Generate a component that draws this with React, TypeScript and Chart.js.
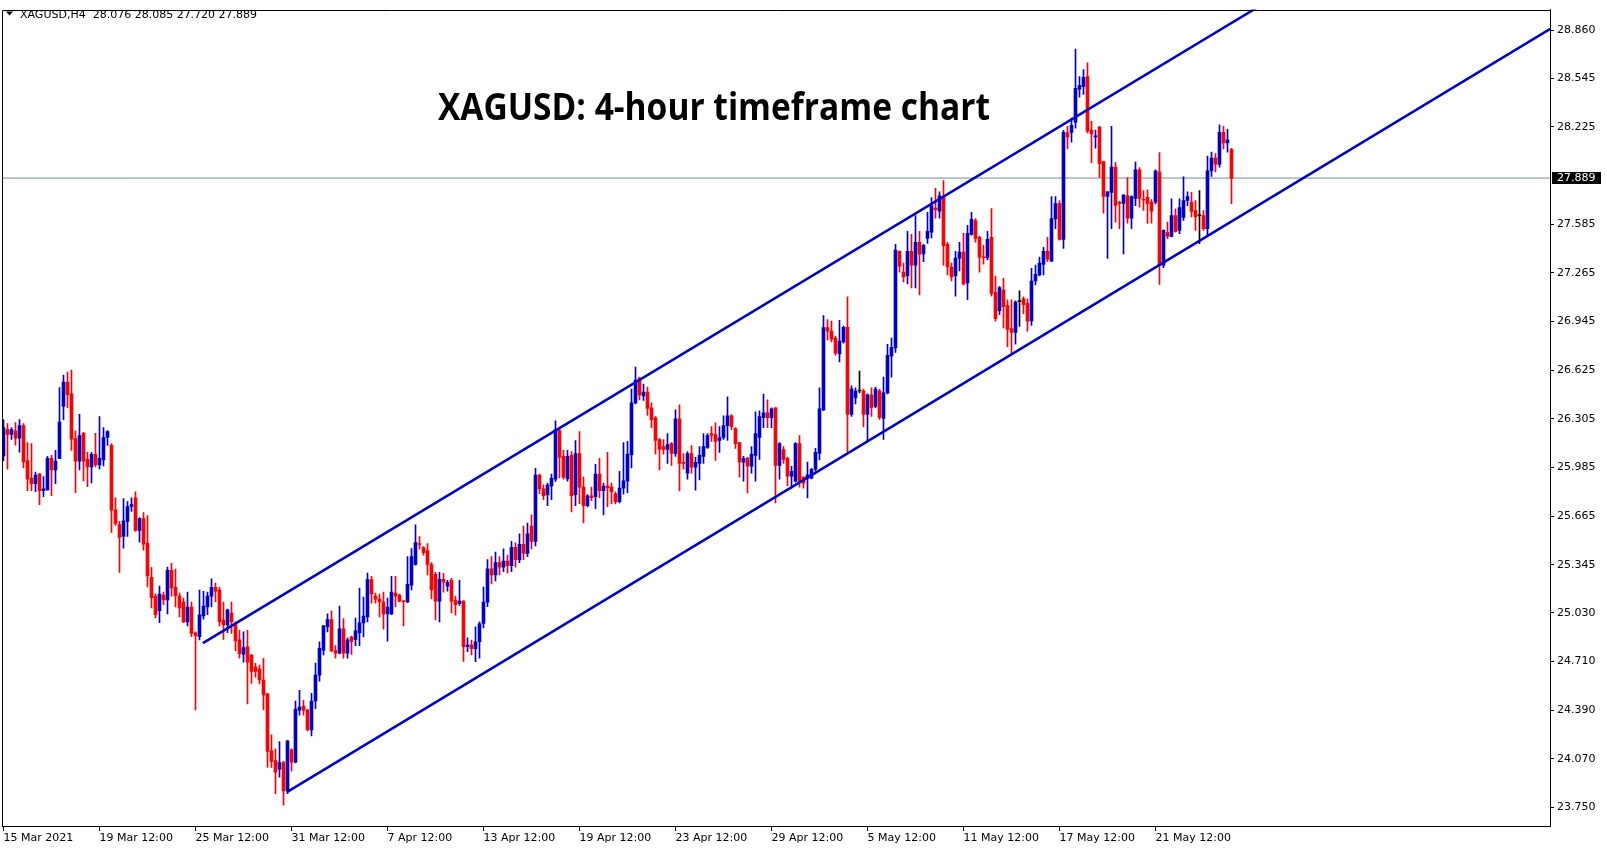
import React, { useEffect, useRef } from 'react';
import { Chart, registerables } from 'chart.js';

Chart.register(...registerables);

// ---- DATA (XAGUSD H4) ----
const opens = [
  26.061, 26.235, 26.204, 26.226, 26.178, 26.261, 26.031, 25.915, 25.879, 25.942,
  25.833, 25.839, 26.046, 25.970, 26.046, 26.387, 26.548, 26.470, 26.176, 26.028,
  26.211, 26.039, 25.989, 26.072, 26.002, 26.035, 26.183, 26.131, 25.707, 25.611,
  25.533, 25.631, 25.729, 25.787, 25.572, 25.650, 25.487, 25.264, 25.140, 25.044,
  25.146, 25.114, 25.309, 25.198, 25.140, 25.101, 24.970, 25.068, 24.899, 24.873,
  25.009, 25.068, 25.140, 25.198, 25.179, 24.983, 24.951, 25.029, 24.953, 24.853,
  24.757, 24.807, 24.751, 24.673, 24.660, 24.588, 24.497, 24.123, 24.058, 24.001,
  24.045, 23.862, 24.129, 24.047, 24.390, 24.416, 24.390, 24.260, 24.450, 24.620,
  24.785, 24.938, 24.985, 24.781, 24.764, 24.925, 24.764, 24.870, 24.853, 24.898,
  24.964, 25.003, 25.248, 25.140, 25.120, 25.101, 25.022, 25.022, 25.159, 25.146,
  25.107, 25.101, 25.211, 25.348, 25.485, 25.459, 25.439, 25.348, 25.283, 25.107,
  25.250, 25.205, 25.244, 25.114, 25.090, 25.107, 24.807, 24.820, 24.794, 24.840,
  24.960, 25.100, 25.320, 25.280, 25.360, 25.330, 25.370, 25.340, 25.460, 25.380,
  25.480, 25.420, 25.600, 25.500, 25.935, 25.846, 25.805, 25.865, 25.909, 26.228,
  26.059, 25.911, 26.065, 25.807, 26.078, 25.857, 25.735, 25.800, 25.794, 25.942,
  25.833, 25.863, 25.857, 25.813, 25.761, 25.850, 25.898, 26.068, 26.411, 26.574,
  26.456, 26.482, 26.378, 26.313, 26.170, 26.124, 26.104, 26.143, 26.078, 26.306,
  26.020, 25.948, 26.078, 25.987, 26.013, 26.059, 26.117, 26.209, 26.202, 26.163,
  26.183, 26.261, 26.326, 26.241, 26.150, 26.020, 26.046, 25.994, 26.065, 26.183,
  26.313, 26.346, 26.313, 26.378, 26.000, 26.104, 26.046, 25.928, 25.896, 26.143,
  25.922, 25.915, 25.915, 25.974, 26.078, 26.365, 26.906, 26.882, 26.837, 26.732,
  26.811, 26.908, 26.335, 26.443, 26.489, 26.489, 26.335, 26.463, 26.387, 26.489,
  26.309, 26.476, 26.717, 26.772, 27.408, 27.271, 27.245, 27.408, 27.317, 27.467,
  27.391, 27.493, 27.534, 27.691, 27.671, 27.769, 27.454, 27.304, 27.245, 27.363,
  27.402, 27.200, 27.519, 27.610, 27.500, 27.371, 27.365, 27.500, 27.137, 27.017,
  27.154, 27.050, 26.900, 26.874, 27.076, 27.095, 27.065, 26.950, 27.213, 27.252,
  27.321, 27.408, 27.343, 27.621, 27.721, 27.486, 28.186, 28.190, 28.256, 28.473,
  28.490, 28.556, 28.204, 28.160, 28.225, 27.997, 27.769, 27.795, 27.962, 27.730,
  27.723, 27.773, 27.625, 27.756, 27.943, 27.749, 27.762, 27.730, 27.730, 27.930,
  27.317, 27.532, 27.506, 27.643, 27.545, 27.630, 27.741, 27.730, 27.676, 27.641,
  27.643, 27.556, 27.936, 28.020, 27.980, 28.190, 28.120, 28.076,
];

const highs = [
  26.300, 26.274, 26.248, 26.281, 26.300, 26.274, 26.150, 26.143, 25.955, 25.948,
  25.926, 26.059, 26.065, 26.098, 26.511, 26.593, 26.613, 26.626, 26.226, 26.335,
  26.217, 26.085, 26.085, 26.211, 26.320, 26.248, 26.228, 26.143, 25.787, 25.631,
  25.781, 25.761, 25.787, 25.826, 25.657, 25.689, 25.670, 25.329, 25.155, 25.205,
  25.166, 25.331, 25.355, 25.318, 25.159, 25.127, 25.166, 25.101, 24.905, 25.179,
  25.172, 25.166, 25.253, 25.225, 25.198, 25.101, 25.055, 25.101, 24.970, 24.914,
  24.905, 24.914, 24.757, 24.697, 24.686, 24.731, 24.500, 24.227, 24.136, 24.184,
  24.053, 24.190, 24.135, 24.449, 24.520, 24.455, 24.395, 24.500, 24.700, 24.840,
  24.948, 25.024, 25.042, 24.814, 25.074, 24.992, 24.866, 24.877, 24.996, 25.192,
  25.133, 25.292, 25.270, 25.159, 25.153, 25.166, 25.127, 25.270, 25.270, 25.153,
  25.110, 25.400, 25.453, 25.609, 25.531, 25.466, 25.485, 25.361, 25.296, 25.296,
  25.290, 25.244, 25.257, 25.140, 25.244, 25.110, 24.866, 24.851, 24.938, 24.970,
  25.200, 25.380, 25.400, 25.430, 25.400, 25.450, 25.410, 25.500, 25.490, 25.550,
  25.600, 25.620, 25.674, 25.981, 25.942, 25.872, 25.883, 25.942, 26.293, 26.241,
  26.098, 26.098, 26.091, 26.163, 26.222, 25.922, 25.807, 25.857, 26.007, 26.046,
  25.883, 26.085, 25.883, 25.826, 25.961, 26.150, 26.157, 26.502, 26.646, 26.580,
  26.535, 26.515, 26.411, 26.320, 26.176, 26.170, 26.209, 26.150, 26.365, 26.398,
  26.078, 26.091, 26.130, 26.052, 26.124, 26.209, 26.209, 26.254, 26.280, 26.254,
  26.326, 26.450, 26.333, 26.248, 26.152, 26.059, 26.052, 26.124, 26.352, 26.359,
  26.469, 26.430, 26.378, 26.380, 26.150, 26.124, 26.052, 25.994, 26.150, 26.196,
  25.925, 26.022, 25.980, 26.111, 26.509, 26.985, 26.958, 26.948, 26.850, 26.954,
  26.915, 27.108, 26.522, 26.509, 26.620, 26.502, 26.470, 26.509, 26.515, 26.502,
  26.580, 26.795, 26.837, 27.454, 27.410, 27.330, 27.539, 27.519, 27.643, 27.539,
  27.454, 27.663, 27.760, 27.821, 27.799, 27.873, 27.467, 27.330, 27.408, 27.467,
  27.526, 27.578, 27.663, 27.623, 27.506, 27.447, 27.539, 27.689, 27.245, 27.176,
  27.230, 27.089, 27.089, 27.082, 27.148, 27.108, 27.095, 27.295, 27.317, 27.369,
  27.434, 27.499, 27.767, 27.767, 27.741, 28.203, 28.230, 28.284, 28.738, 28.556,
  28.603, 28.647, 28.262, 28.204, 28.230, 28.000, 27.801, 28.230, 27.991, 27.736,
  27.780, 27.893, 27.773, 27.995, 27.958, 27.806, 27.812, 27.747, 27.943, 28.056,
  27.548, 27.599, 27.752, 27.687, 27.752, 27.897, 27.799, 27.795, 27.741, 27.806,
  27.676, 28.034, 28.060, 28.050, 28.240, 28.230, 28.210, 28.085,
];

const lows = [
  26.031, 25.974, 26.170, 26.133, 26.087, 25.983, 25.833, 25.833, 25.826, 25.742,
  25.794, 25.837, 25.800, 25.879, 26.044, 26.300, 26.378, 26.098, 25.820, 25.970,
  25.898, 25.859, 25.885, 25.989, 25.976, 25.996, 26.131, 25.559, 25.605, 25.296,
  25.455, 25.533, 25.696, 25.566, 25.494, 25.442, 25.201, 25.062, 24.996, 24.966,
  25.083, 25.022, 25.140, 25.068, 25.003, 24.966, 24.944, 24.873, 24.392, 24.851,
  24.988, 25.018, 25.068, 25.101, 24.944, 24.855, 24.899, 24.894, 24.781, 24.731,
  24.705, 24.431, 24.566, 24.607, 24.562, 24.392, 24.014, 24.014, 23.840, 23.949,
  23.765, 23.840, 23.988, 24.043, 24.357, 24.357, 24.253, 24.220, 24.400, 24.580,
  24.753, 24.905, 24.775, 24.731, 24.759, 24.731, 24.731, 24.757, 24.814, 24.814,
  24.872, 24.970, 25.094, 25.094, 25.003, 24.922, 24.844, 25.018, 25.068, 25.101,
  24.944, 25.096, 25.181, 25.344, 25.448, 25.409, 25.279, 25.122, 24.983, 24.970,
  25.166, 25.172, 25.029, 25.014, 25.079, 24.710, 24.775, 24.753, 24.709, 24.731,
  24.930, 25.070, 25.220, 25.240, 25.280, 25.300, 25.290, 25.300, 25.330, 25.360,
  25.380, 25.400, 25.450, 25.470, 25.813, 25.774, 25.735, 25.774, 25.894, 25.917,
  25.909, 25.896, 25.694, 25.735, 25.748, 25.622, 25.726, 25.768, 25.715, 25.787,
  25.674, 25.728, 25.746, 25.746, 25.752, 25.811, 25.820, 25.983, 26.404, 26.430,
  26.426, 26.328, 26.248, 26.074, 25.970, 26.074, 26.013, 26.000, 26.059, 25.831,
  25.974, 25.909, 25.948, 25.837, 25.904, 26.013, 26.111, 26.157, 26.033, 26.085,
  26.170, 26.163, 26.235, 26.111, 25.922, 25.896, 25.818, 25.948, 25.896, 26.039,
  26.248, 26.248, 26.248, 25.752, 25.909, 26.013, 25.865, 25.850, 25.889, 25.857,
  25.850, 25.785, 25.910, 25.961, 26.035, 26.360, 26.824, 26.811, 26.724, 26.680,
  26.804, 26.090, 26.322, 26.404, 26.476, 26.252, 26.160, 26.322, 26.378, 26.302,
  26.170, 26.470, 26.580, 26.743, 27.271, 27.206, 27.193, 27.167, 27.167, 27.121,
  27.339, 27.460, 27.495, 27.626, 27.626, 27.317, 27.252, 27.213, 27.113, 27.278,
  27.187, 27.089, 27.513, 27.467, 27.271, 27.323, 27.350, 27.113, 26.948, 26.991,
  26.904, 26.780, 26.735, 26.796, 26.913, 26.998, 26.882, 26.920, 27.187, 27.245,
  27.252, 27.339, 27.339, 27.556, 27.480, 27.426, 28.082, 28.125, 28.217, 28.421,
  28.440, 28.186, 27.991, 28.086, 27.893, 27.658, 27.360, 27.556, 27.599, 27.556,
  27.391, 27.593, 27.556, 27.708, 27.697, 27.676, 27.591, 27.593, 27.719, 27.190,
  27.300, 27.491, 27.502, 27.534, 27.524, 27.610, 27.708, 27.634, 27.545, 27.458,
  27.545, 27.513, 27.900, 27.930, 27.960, 28.080, 28.060, 27.720,
];

const closes = [
  26.248, 26.204, 26.235, 26.178, 26.261, 26.022, 25.909, 25.879, 25.935, 25.833,
  25.846, 26.046, 25.970, 26.028, 26.285, 26.548, 26.465, 26.172, 26.028, 26.196,
  26.028, 25.989, 26.072, 26.002, 26.046, 26.183, 26.222, 25.703, 25.618, 25.526,
  25.635, 25.729, 25.742, 25.572, 25.650, 25.481, 25.272, 25.129, 25.018, 25.153,
  25.114, 25.309, 25.194, 25.142, 25.062, 24.970, 25.068, 24.894, 24.879, 25.016,
  25.075, 25.140, 25.198, 25.172, 24.970, 24.951, 25.049, 24.970, 24.846, 24.762,
  24.801, 24.705, 24.644, 24.644, 24.588, 24.490, 24.118, 24.053, 23.982, 24.045,
  23.858, 24.188, 24.047, 24.397, 24.410, 24.390, 24.260, 24.450, 24.620, 24.796,
  24.944, 24.985, 24.781, 24.764, 24.925, 24.764, 24.853, 24.842, 24.912, 24.964,
  25.009, 25.248, 25.155, 25.120, 25.101, 25.022, 25.068, 25.166, 25.140, 25.107,
  25.103, 25.218, 25.400, 25.492, 25.479, 25.426, 25.348, 25.181, 25.107, 25.250,
  25.231, 25.231, 25.107, 25.083, 25.107, 24.807, 24.820, 24.794, 24.840, 24.957,
  25.100, 25.320, 25.280, 25.360, 25.330, 25.370, 25.340, 25.460, 25.380, 25.480,
  25.420, 25.550, 25.500, 25.935, 25.846, 25.800, 25.870, 25.915, 26.235, 26.052,
  25.922, 26.059, 25.800, 26.078, 25.857, 25.735, 25.800, 25.787, 25.942, 25.833,
  25.863, 25.852, 25.826, 25.761, 25.850, 25.898, 26.074, 26.411, 26.561, 26.463,
  26.482, 26.374, 26.300, 26.163, 26.107, 26.104, 26.137, 26.078, 26.306, 26.013,
  26.013, 26.078, 25.987, 26.020, 26.065, 26.124, 26.196, 26.196, 26.157, 26.183,
  26.261, 26.326, 26.254, 26.143, 26.020, 26.046, 25.994, 26.072, 26.209, 26.320,
  26.346, 26.313, 26.372, 26.000, 26.143, 26.039, 25.928, 25.961, 26.143, 25.889,
  25.883, 25.937, 25.974, 26.085, 26.372, 26.906, 26.882, 26.830, 26.737, 26.817,
  26.908, 26.335, 26.502, 26.489, 26.489, 26.335, 26.463, 26.380, 26.502, 26.315,
  26.476, 26.724, 26.776, 27.415, 27.310, 27.239, 27.408, 27.317, 27.467, 27.389,
  27.447, 27.539, 27.708, 27.682, 27.773, 27.443, 27.304, 27.239, 27.363, 27.402,
  27.193, 27.526, 27.617, 27.493, 27.369, 27.365, 27.486, 27.130, 26.965, 27.169,
  27.043, 26.893, 26.874, 27.074, 27.076, 27.056, 26.948, 27.212, 27.256, 27.330,
  27.408, 27.356, 27.623, 27.721, 27.486, 28.190, 28.160, 28.236, 28.479, 28.499,
  28.551, 28.197, 28.180, 28.167, 27.984, 27.769, 27.799, 27.962, 27.710, 27.723,
  27.778, 27.625, 27.767, 27.943, 27.756, 27.743, 27.723, 27.671, 27.936, 27.317,
  27.545, 27.506, 27.643, 27.539, 27.695, 27.741, 27.767, 27.669, 27.636, 27.641,
  27.556, 27.936, 28.020, 27.980, 28.190, 28.120, 28.140, 27.889,
];

const xTickBars = [0, 24, 48, 72, 96, 120, 144, 168, 192, 216, 240, 264, 288];
const xTickLabels = [
  '15 Mar 2021', '19 Mar 12:00', '25 Mar 12:00', '31 Mar 12:00', '7 Apr 12:00',
  '13 Apr 12:00', '19 Apr 12:00', '23 Apr 12:00', '29 Apr 12:00', '5 May 12:00',
  '11 May 12:00', '17 May 12:00', '21 May 12:00',
];
const yTickValues = [
  28.860, 28.545, 28.225, 27.585, 27.265, 26.945, 26.625, 26.305,
  25.985, 25.665, 25.345, 25.030, 24.710, 24.390, 24.070, 23.750,
];

const upperChannel = [{ x: 49.85, y: 24.831 }, { x: 386.7, y: 30.173 }];
const lowerChannel = [{ x: 70.85, y: 23.851 }, { x: 386.7, y: 28.870 }];
const currentPrice = 27.889;
const headerText = 'XAGUSD,H4  28.076 28.085 27.720 27.889';
const titleText = 'XAGUSD: 4-hour timeframe chart';

// ---- STYLE ----
const BLUE = '#0000CD';
const RED = '#FF0000';
const BLACK = '#000000';
const AXIS_FONT = { family: '"DejaVu Sans", sans-serif', size: 11 };
const X_MIN = -0.375;
const X_MAX = 386.625;

const candleColor = (i: number) =>
  closes[i] > opens[i] ? BLUE : closes[i] < opens[i] ? RED : BLACK;

const overlayPlugin = {
  id: 'mt4overlay',
  afterDraw(chart: any) {
    const { ctx, chartArea: a } = chart;
    ctx.save();
    // frame
    ctx.strokeStyle = '#000';
    ctx.lineWidth = 1;
    ctx.beginPath();
    ctx.moveTo(Math.round(a.left) + 0.5, Math.round(a.bottom));
    ctx.lineTo(Math.round(a.left) + 0.5, Math.round(a.top) + 0.5);
    ctx.lineTo(Math.round(a.right), Math.round(a.top) + 0.5);
    ctx.stroke();

    // current price box
    const py = chart.scales.y.getPixelForValue(currentPrice);
    ctx.fillStyle = '#000';
    ctx.fillRect(a.right + 2, Math.round(py) - 6, 49, 12);
    ctx.fillStyle = '#fff';
    ctx.font = '11px "DejaVu Sans", sans-serif';
    ctx.textBaseline = 'middle';
    ctx.textAlign = 'left';
    ctx.fillText(currentPrice.toFixed(3), a.right + 7, Math.round(py) + 0.5);

    // header
    ctx.fillStyle = '#000';
    ctx.beginPath();
    ctx.moveTo(6, 11.5);
    ctx.lineTo(13, 11.5);
    ctx.lineTo(9.5, 15.5);
    ctx.closePath();
    ctx.fill();
    ctx.textBaseline = 'alphabetic';
    ctx.font = '11px "DejaVu Sans", sans-serif';
    ctx.fillText(headerText, 20, 17.5);

    // title
    ctx.font = 'bold 37px "Open Sans", sans-serif';
    ctx.textAlign = 'center';
    ctx.fillText(titleText, 714, 120, 552);
    ctx.restore();
  },
};

export default function App() {
  const ref = useRef<HTMLCanvasElement>(null);

  useEffect(() => {
    document.body.style.margin = '0';
    const colors = opens.map((_, i) => candleColor(i));
    const chart = new Chart(ref.current as HTMLCanvasElement, {
      type: 'bar',
      data: {
        datasets: [
          {
            type: 'line',
            data: upperChannel,
            borderColor: BLUE,
            borderWidth: 2.5,
            pointRadius: 0,
            order: 0,
          } as any,
          {
            type: 'line',
            data: lowerChannel,
            borderColor: BLUE,
            borderWidth: 2.5,
            pointRadius: 0,
            order: 0,
          } as any,
          {
            type: 'bar',
            data: opens.map((o, i) => ({ x: i, y: [o, closes[i]] })),
            backgroundColor: colors,
            borderWidth: 0,
            barThickness: 3,
            minBarLength: 1,
            grouped: false,
            order: 1,
          } as any,
          {
            type: 'bar',
            data: opens.map((_, i) => ({ x: i, y: [lows[i], highs[i]] })),
            backgroundColor: colors,
            borderWidth: 0,
            barThickness: 1,
            grouped: false,
            order: 2,
          } as any,
          {
            type: 'line',
            data: [{ x: X_MIN, y: currentPrice }, { x: X_MAX, y: currentPrice }],
            borderColor: '#778899',
            borderWidth: 1,
            pointRadius: 0,
            order: 3,
          } as any,
        ],
      },
      options: {
        animation: false,
        responsive: false,
        devicePixelRatio: 1,
        events: [],
        layout: { padding: { left: 2, top: 2, right: 0, bottom: 0 } },
        plugins: { legend: { display: false }, tooltip: { enabled: false }, title: { display: false } },
        scales: {
          x: {
            type: 'linear',
            min: X_MIN,
            max: X_MAX,
            offset: false,
            afterBuildTicks: (s: any) => {
              s.ticks = xTickBars.map((v) => ({ value: v }));
            },
            afterFit: (s: any) => {
              s.height = 24;
            },
            grid: { display: true, offset: false, drawOnChartArea: false, drawTicks: true, tickLength: 5, color: '#000' },
            border: { display: true, color: '#000', width: 1 },
            ticks: {
              autoSkip: false,
              maxRotation: 0,
              minRotation: 0,
              align: 'start',
              padding: 1,
              color: '#000',
              font: AXIS_FONT,
              callback: (v: any) => {
                const k = xTickBars.indexOf(Number(v));
                return k >= 0 ? xTickLabels[k] : '';
              },
            },
          } as any,
          y: {
            type: 'linear',
            position: 'right',
            min: 23.628,
            max: 28.997,
            afterBuildTicks: (s: any) => {
              s.ticks = yTickValues.map((v) => ({ value: v }));
            },
            afterFit: (s: any) => {
              s.width = 57;
            },
            grid: { display: true, drawOnChartArea: false, drawTicks: true, tickLength: 4, color: '#000' },
            border: { display: true, color: '#000', width: 1 },
            ticks: {
              padding: 3,
              color: '#000',
              font: AXIS_FONT,
              callback: (v: any) => Number(v).toFixed(3),
            },
          } as any,
        },
      },
      plugins: [overlayPlugin],
    } as any);
    return () => chart.destroy();
  }, []);

  return (
    <div style={{ width: 1607, height: 850, background: '#fff', overflow: 'hidden' }}>
      <canvas ref={ref} width={1607} height={850} style={{ display: 'block' }} />
    </div>
  );
}
